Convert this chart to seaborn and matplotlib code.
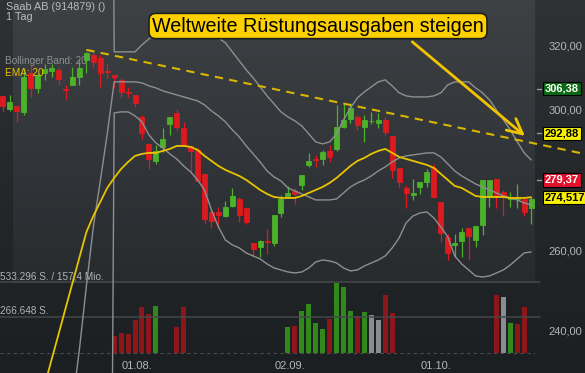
import numpy as np
import matplotlib
matplotlib.use("Agg")
import matplotlib.pyplot as plt
import matplotlib.transforms as mtransforms
from matplotlib.colors import LinearSegmentedColormap
from matplotlib.ticker import NullLocator, NullFormatter
import seaborn as sns

# ---------------- data ----------------
opens = [304.19, 300.21, 301.13, 299.30, 311.36, 306.67, 311.36, 311.99, 312.31, 306.35,
         307.60, 310.10, 315.49, 317.09, 316.13, 311.99, 310.73, 309.16, 305.43, 304.50,
         297.79, 289.76, 284.81, 288.88, 295.69, 299.00, 294.49, 289.17, 288.00, 281.09,
         270.47, 270.47, 269.38, 272.12, 274.06, 271.57, 262.12, 261.06, 262.65, 262.12,
         270.20, 274.89, 276.29, 277.97, 283.66, 285.39, 285.39, 287.71, 288.29, 294.79,
         297.19, 297.79, 294.79, 296.44, 295.99, 296.89, 292.11, 282.80, 277.13, 275.17,
         277.41, 278.82, 282.80, 273.23, 263.72, 261.59, 262.65, 266.13, 262.91, 266.94,
         274.61, 279.67, 276.01, 274.06, 274.06, 274.06, 271.57]
highs = [304.50, 304.50, 301.13, 312.94, 313.89, 311.36, 314.21, 314.21, 313.26, 307.60,
         313.26, 315.49, 318.05, 317.73, 317.09, 314.53, 310.73, 309.79, 306.98, 304.50,
         298.40, 289.76, 289.46, 294.49, 297.79, 300.21, 296.29, 289.17, 288.59, 281.09,
         271.30, 271.85, 273.50, 277.13, 274.61, 271.57, 262.12, 262.91, 265.86, 269.66,
         275.17, 277.69, 277.13, 280.80, 287.13, 286.55, 288.00, 289.46, 301.43, 301.74,
         302.04, 298.40, 298.40, 299.30, 299.00, 297.79, 292.11, 282.80, 277.97, 279.67,
         278.82, 282.51, 283.95, 273.23, 264.52, 264.52, 266.13, 266.13, 266.67, 279.38,
         279.38, 279.67, 276.57, 276.01, 278.25, 274.06, 274.61]
lows = [299.30, 299.60, 296.29, 298.40, 303.88, 305.12, 309.16, 310.10, 307.60, 303.27,
        307.60, 307.60, 311.36, 312.94, 306.98, 309.79, 306.67, 303.58, 303.88, 300.82,
        291.23, 282.51, 283.95, 287.42, 292.41, 293.60, 289.17, 281.66, 279.10, 267.21,
        266.13, 266.13, 269.11, 271.85, 267.75, 267.21, 258.43, 258.43, 259.21, 261.32,
        269.11, 274.89, 272.67, 276.57, 283.09, 283.09, 283.66, 284.52, 287.71, 294.49,
        295.99, 293.90, 290.35, 295.69, 294.49, 292.41, 279.95, 277.13, 271.57, 273.78,
        275.45, 277.41, 274.61, 262.38, 257.64, 258.43, 258.43, 257.64, 261.06, 264.25,
        271.85, 271.57, 269.38, 271.85, 271.57, 269.38, 267.21]
closes = [301.13, 302.35, 299.60, 310.10, 306.67, 310.73, 312.62, 312.94, 309.47, 306.05,
          310.10, 312.94, 317.73, 314.85, 311.36, 311.68, 310.10, 305.43, 305.12, 302.04,
          293.00, 285.39, 287.71, 291.23, 297.79, 294.79, 289.17, 287.71, 279.10, 268.57,
          268.02, 269.66, 271.85, 274.89, 269.66, 267.75, 260.53, 262.65, 262.38, 269.66,
          274.06, 275.73, 275.45, 280.80, 284.81, 285.10, 287.42, 285.97, 294.79, 296.89,
          300.52, 295.39, 296.89, 296.59, 296.89, 293.30, 282.23, 278.82, 275.73, 275.73,
          278.82, 281.66, 274.61, 264.79, 259.48, 262.12, 265.05, 263.98, 266.67, 279.38,
          279.38, 274.61, 274.61, 274.61, 274.33, 270.47, 274.06]
candle_idx = list(range(len(opens)))

# Bollinger band (20); the chart's band starts with a jump at day 15/16
bb_idx = list(range(15, 77))
bb_upper = [1000.0,
            318.05, 318.05, 318.05, 318.05, 320.32, 322.27, 323.58, 324.56, 325.22, 325.88,
            325.88, 325.88, 325.55, 324.89, 323.91, 322.60, 320.96, 318.05, 315.17, 312.31,
            309.79, 306.98, 304.19, 301.74, 299.30, 297.79, 296.59, 295.09, 292.71, 290.35,
            289.76, 290.35, 292.71, 296.89, 300.52, 303.58, 305.43, 306.98, 308.54, 309.16,
            307.29, 305.12, 304.19, 303.88, 303.88, 303.88, 304.19, 305.12, 307.60, 308.54,
            308.54, 308.54, 306.67, 305.12, 302.96, 299.91, 296.89, 293.90, 290.35, 287.13,
            285.10]
bb_lower = [100.0,
            299.00, 299.30, 299.30, 298.09, 296.29, 292.41, 290.05, 288.59, 286.84, 285.39,
            283.37, 281.66, 279.38, 276.57, 271.02, 266.40, 262.91, 261.59, 260.79, 259.48,
            258.69, 257.90, 256.60, 255.56, 255.05, 254.53, 254.27, 254.53, 255.56, 257.12,
            257.64, 257.38, 256.86, 255.56, 254.79, 255.05, 256.08, 256.86, 257.64, 258.69,
            260.79, 263.45, 267.48, 269.38, 270.20, 270.47, 268.84, 266.40, 263.72, 258.69,
            256.60, 255.05, 253.50, 253.24, 253.50, 254.27, 255.05, 256.34, 257.90, 259.48,
            259.73]
mid_idx = list(range(10, 77))
bb_mid = [222.7, 235.4, 250.9, 266.4, 279.10, 292.71,
          308.54, 308.54, 308.54, 308.54, 308.22, 307.29, 306.67, 305.74, 305.12, 304.50,
          303.88, 303.27, 302.65, 301.43, 299.60, 298.09, 296.29, 293.90, 291.82, 289.17,
          286.84, 284.52, 281.94, 280.23, 279.10, 277.13, 276.29, 275.45, 274.61, 273.78,
          273.78, 273.78, 274.06, 275.73, 277.41, 278.54, 279.38, 280.52, 281.94, 283.09,
          284.52, 285.68, 286.26, 286.55, 286.84, 287.13, 287.13, 285.97, 283.95, 281.94,
          280.52, 279.38, 278.25, 277.41, 276.57, 275.73, 274.89, 274.33, 273.78, 272.95,
          272.40]
ema_idx = list(range(6, 77))
ema20 = [227.0, 232.96, 239.0, 245.3, 251.7, 258.3, 265.0, 269.38, 273.23, 277.13,
         279.95, 282.51, 284.52, 286.26, 286.84, 287.13, 287.13, 287.71, 288.29, 289.17,
         289.17, 288.88, 288.00, 286.26, 284.81, 283.37, 282.23, 281.37, 280.52, 279.38,
         277.97, 276.57, 275.45, 274.61, 274.33, 274.33, 274.33, 274.89, 275.73, 276.57,
         277.41, 278.54, 279.95, 281.66, 283.37, 284.81, 285.68, 286.84, 287.71, 288.29,
         287.13, 285.97, 285.39, 284.81, 284.24, 283.66, 282.80, 281.09, 279.38, 277.69,
         277.13, 276.01, 274.89, 274.61, 274.61, 274.61, 274.61, 274.33, 274.33, 274.33,
         274.52]

vol_idx = [16, 17, 18, 19, 20, 21, 22, 25, 26,
           41, 42, 43, 44, 45, 46, 47, 48, 49, 50, 51, 52, 53, 54, 55, 56,
           71, 72, 73, 74, 75]
volumes = [126000, 146000, 139000, 247000, 347000, 290000, 352000, 196000, 347000,
           192000, 199000, 315000, 370000, 224000, 179000, 254000, 528000, 493000, 315000,
           275000, 305000, 284000, 247000, 433000, 297000,
           433000, 422000, 222000, 214000, 342000]
vol_dir = ['down'] * 6 + ['up', 'down', 'down',
           'up', 'down', 'up', 'up', 'up', 'up', 'down', 'up', 'up', 'up', 'down', 'up',
           'flat', 'flat', 'down', 'down',
           'down', 'flat', 'up', 'down', 'down']
vol_levels = [533296, 266648]
vol_level_labels = ['533.296 S. / 157,4 Mio.', '266.648 S.']

trend_idx = [12, 84]
trend_val = [318.7, 286.7]

price_ticks = [240, 260, 280, 300, 320]
price_tick_labels = ['240,00', '260,00', '280,00', '300,00', '320,00']
date_tick_idx = [19, 41, 62]
date_tick_labels = ['01.08.', '02.09.', '01.10.']

markers = [(306.38, '306,38', '#0a6a12', 'white', True),
           (292.88, '292,88', '#f7f000', 'black', True),
           (279.37, '279,37', '#e2122c', 'white', True),
           (274.517, '274,517', '#f7f000', 'black', False)]

title = 'Saab AB (914879) ()'
subtitle = '1 Tag'
headline = 'Weltweite Rüstungsausgaben steigen'

# ---------------- styling ----------------
sns.set_theme(style='dark')
plt.rcParams['font.family'] = ['Liberation Sans', 'DejaVu Sans']

W, H = 585, 373
PLOT_R = 535
fig = plt.figure(figsize=(W / 100, H / 100), dpi=100)

bg = fig.add_axes([0, 0, 1, 1], zorder=0)
bg.set_xlim(0, W)
bg.set_ylim(H, 0)
bg.axis('off')
grad = np.linspace(0, 1, 256).reshape(-1, 1)
outer = LinearSegmentedColormap.from_list('outer', ['#2f3235', '#25282b', '#1c1f22'])
pane = LinearSegmentedColormap.from_list('pane', ['#3e4144', '#33363a', '#282b2e'])
bg.imshow(grad, cmap=outer, extent=(0, W, H, 0), aspect='auto', interpolation='bilinear')
bg.imshow(grad, cmap=pane, extent=(13, PLOT_R, 283, 0), aspect='auto', interpolation='bilinear')

rect = [0, 0, PLOT_R / W, 1]
XL = (-0.43, 76.55)

# volume axis
axv = fig.add_axes(rect, zorder=1)
axv.patch.set_alpha(0)
axv.set_xlim(*XL)
axv.set_ylim(-153120, 2660400)
axv.axis('off')
vcol = {'down': '#8c1619', 'up': '#2f8a1b', 'flat': '#8a8d90'}
axv.bar(vol_idx, volumes, width=0.72, color=[vcol[d] for d in vol_dir], linewidth=0)
for lv in vol_levels:
    axv.axhline(lv, xmin=0, xmax=540 / PLOT_R, color='#45484b', lw=1.1, clip_on=False)
axv.axhline(0, color='#4a4d50', lw=0.8, ls=(0, (3, 3)))

# price axis
ax = fig.add_axes(rect, zorder=2)
ax.patch.set_alpha(0)
ax.set_yscale('log')
ax.set_xlim(*XL)
ax.set_ylim(229.78, 335.2)
for s in ax.spines.values():
    s.set_visible(False)

up_c, dn_c = '#4cb22a', '#dd1a1e'
colors = [up_c if c >= o else dn_c for o, c in zip(opens, closes)]
ax.vlines(candle_idx, lows, highs, colors=colors, lw=0.9, zorder=3)
bottoms = [min(o, c) for o, c in zip(opens, closes)]
heights = [max(abs(c - o), 0.08) for o, c in zip(opens, closes)]
ax.bar(candle_idx, heights, bottom=bottoms, width=0.72, color=colors,
       edgecolor=colors, linewidth=0.6, zorder=3)

band_c = '#8e8f91'
sns.lineplot(x=bb_idx, y=bb_upper, ax=ax, color=band_c, lw=1.0, sort=False, zorder=4)
sns.lineplot(x=bb_idx, y=bb_lower, ax=ax, color=band_c, lw=1.0, sort=False, zorder=4)
sns.lineplot(x=mid_idx, y=bb_mid, ax=ax, color=band_c, lw=1.0, sort=False, zorder=4)
sns.lineplot(x=ema_idx, y=ema20, ax=ax, color='#e8c400', lw=1.3, sort=False, zorder=4)

ax.plot(trend_idx, trend_val, color='#d9b600', lw=1.5, ls=(0, (4, 3)),
        clip_on=False, zorder=4)

ax.yaxis.tick_right()
ax.set_yticks(price_ticks)
ax.set_yticklabels(price_tick_labels)
ax.yaxis.set_minor_locator(NullLocator())
ax.yaxis.set_minor_formatter(NullFormatter())
ax.tick_params(axis='y', length=0, pad=10, labelsize=8, labelcolor='#b4b6b8')
ax.tick_params(axis='x', bottom=False, labelbottom=False)
ax.set_xlabel('')
ax.set_ylabel('')
ax.grid(False)

trans = mtransforms.blended_transform_factory(ax.transAxes, ax.transData)
for v, lab, fc, tc, dash in markers:
    if dash:
        ax.plot([1 + 2 / PLOT_R, 1 + 6 / PLOT_R], [v, v], transform=trans,
                color='#9a9a9a', lw=1, clip_on=False, zorder=5)
    ax.text(1 + 10 / PLOT_R, v, lab, transform=trans, ha='left', va='center',
            fontsize=8, fontweight='bold', color=tc, zorder=6, clip_on=False,
            bbox=dict(boxstyle='square,pad=0.15', fc=fc, ec='black', lw=0.8))

dtrans = mtransforms.blended_transform_factory(ax.transData, ax.transAxes)
for i, lab in zip(date_tick_idx, date_tick_labels):
    ax.text(i + 0.3, (H - 366) / H, lab, transform=dtrans, ha='center', va='center',
            fontsize=8, color='#b4b6b8')

# texts
fig.text(6 / W, 1 - 7.5 / H, title, ha='left', va='center', fontsize=7.8, color='#b8babc')
fig.text(6 / W, 1 - 17.5 / H, subtitle, ha='left', va='center', fontsize=7.8, color='#b8babc')
fig.text(5 / W, 1 - 61 / H, 'Bollinger Band: 20', ha='left', va='center', fontsize=7.2,
         color='#8e9092', zorder=10)
fig.text(5 / W, 1 - 73 / H, 'EMA: 20', ha='left', va='center', fontsize=7.2,
         color='#e6c200', zorder=10)
fig.text(0, 1 - 276.5 / H, vol_level_labels[0], ha='left', va='center', fontsize=7.2,
         color='#b0b2b4')
fig.text(0, 1 - 311.5 / H, vol_level_labels[1], ha='left', va='center', fontsize=7.2,
         color='#b0b2b4')

ax.annotate('', xy=(75.1, 292.1), xytext=(58.9, 321.3), xycoords='data',
            textcoords='data', annotation_clip=False, zorder=7,
            arrowprops=dict(arrowstyle='->,head_length=0.9,head_width=0.45',
                            color='#f2c400', lw=2, shrinkA=0, shrinkB=0))
fig.text(318 / W, 1 - 26 / H, headline, ha='center', va='center', fontsize=14.2,
         color='black', zorder=20,
         bbox=dict(boxstyle='round,pad=0.16,rounding_size=0.35', fc='#fdd000',
                   ec='#1e1e1e', lw=1.2))

fig.savefig('out.png', dpi=100)
